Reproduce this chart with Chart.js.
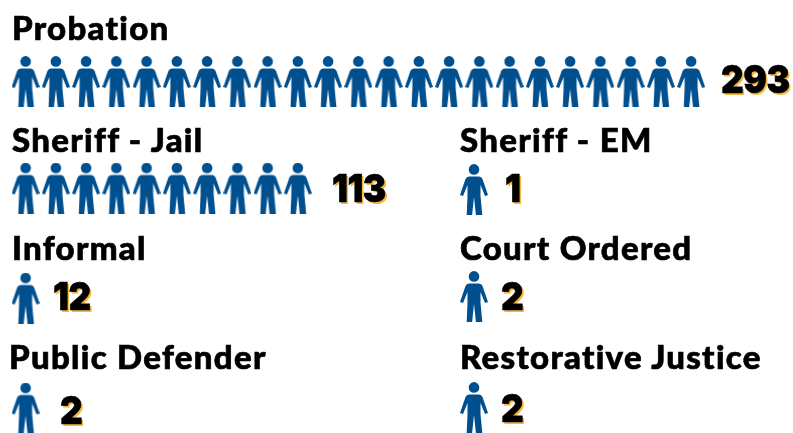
<!DOCTYPE html>
<html>
<head>
<meta charset="utf-8">
<script src="https://cdn.jsdelivr.net/npm/chart.js@4"></script>
<style>
  html, body { margin: 0; padding: 0; background: #fff; }
  #wrap { position: relative; width: 793px; height: 433px; overflow: hidden; font-family: Lato, sans-serif; }
  #chart { position: absolute; left: 0; top: 0; }
  .title, .count { position: absolute; white-space: nowrap; color: #000; font-weight: 900; line-height: 1; }
  .title { font-size: 33px; letter-spacing: 1.3px; -webkit-text-stroke: 0.7px #000; }
  .count { font-family: Inter, sans-serif; font-size: 39px; letter-spacing: -0.5px; -webkit-text-stroke: 0.6px #000; text-shadow: 2px 2px 0 #f6b73c; transform: scaleX(0.9); transform-origin: left top; }
</style>
</head>
<body>
<div id="wrap"><canvas id="chart" width="793" height="433"></canvas></div>
<script>
const categories = ['Probation', 'Sheriff - Jail', 'Sheriff - EM', 'Informal', 'Court Ordered', 'Public Defender', 'Restorative Justice'];
const values = [293, 113, 1, 12, 2, 2, 2];
const iconCounts = [23, 10, 1, 1, 1, 1, 1];

// layout, in picture pixels (x of first figure, y of figure centre, text spots)
const panels = [
  { x: 25.6, y: 81.5, tx: 12, ty: 11, nx: 721, ny: 59 },
  { x: 25.6, y: 188, tx: 12, ty: 123, nx: 332, ny: 168 },
  { x: 474, y: 189.5, tx: 460, ty: 123, nx: 505, ny: 168 },
  { x: 25.6, y: 298, tx: 12, ty: 231, nx: 53, ny: 276 },
  { x: 474, y: 296.5, tx: 460, ty: 231, nx: 501, ny: 276 },
  { x: 25.6, y: 408, tx: 9, ty: 340, nx: 60, ny: 390 },
  { x: 474, y: 407.5, tx: 460, ty: 340, nx: 501, ny: 388 }
];
const step = 30.25;

function personIcon() {
  const c = document.createElement('canvas');
  c.width = 28;
  c.height = 51;
  const g = c.getContext('2d');
  g.fillStyle = '#004f8f';
  g.beginPath();
  g.arc(14, 5.4, 5.3, 0, Math.PI * 2);
  g.fill();
  g.beginPath();
  g.moveTo(9, 12.5);
  g.lineTo(19, 12.5);
  g.quadraticCurveTo(21.5, 12.5, 22.5, 15);
  g.lineTo(28, 31);
  g.lineTo(25, 32);
  g.lineTo(20.5, 21);
  g.lineTo(20.5, 32);
  g.lineTo(22.3, 51);
  g.lineTo(15.9, 51);
  g.lineTo(14, 33);
  g.lineTo(12.1, 51);
  g.lineTo(6.7, 51);
  g.lineTo(7.5, 32);
  g.lineTo(7.5, 21);
  g.lineTo(3, 32);
  g.lineTo(0, 31);
  g.lineTo(5.5, 15);
  g.quadraticCurveTo(6.5, 12.5, 9, 12.5);
  g.closePath();
  g.fill();
  return c;
}

const icon = personIcon();

const datasets = categories.map((name, i) => ({
  label: name,
  data: Array.from({ length: iconCounts[i] }, (_, k) => ({ x: panels[i].x + k * step, y: panels[i].y })),
  pointStyle: icon,
  pointRadius: 14,
  clip: false,
  showLine: false
}));

new Chart(document.getElementById('chart'), {
  type: 'scatter',
  data: { datasets },
  options: {
    responsive: false,
    animation: false,
    events: [],
    layout: { padding: 0, autoPadding: false },
    plugins: { legend: { display: false }, tooltip: { enabled: false }, title: { display: false } },
    scales: {
      x: { type: 'linear', min: 0, max: 793, display: false },
      y: { type: 'linear', min: 0, max: 433, reverse: true, display: false }
    }
  }
});

const wrap = document.getElementById('wrap');
categories.forEach((name, i) => {
  const t = document.createElement('div');
  t.className = 'title';
  t.textContent = name;
  t.style.left = panels[i].tx + 'px';
  t.style.top = panels[i].ty + 'px';
  wrap.appendChild(t);

  const n = document.createElement('div');
  n.className = 'count';
  n.textContent = values[i];
  n.style.left = panels[i].nx + 'px';
  n.style.top = panels[i].ny + 'px';
  wrap.appendChild(n);
});
</script>
</body>
</html>
